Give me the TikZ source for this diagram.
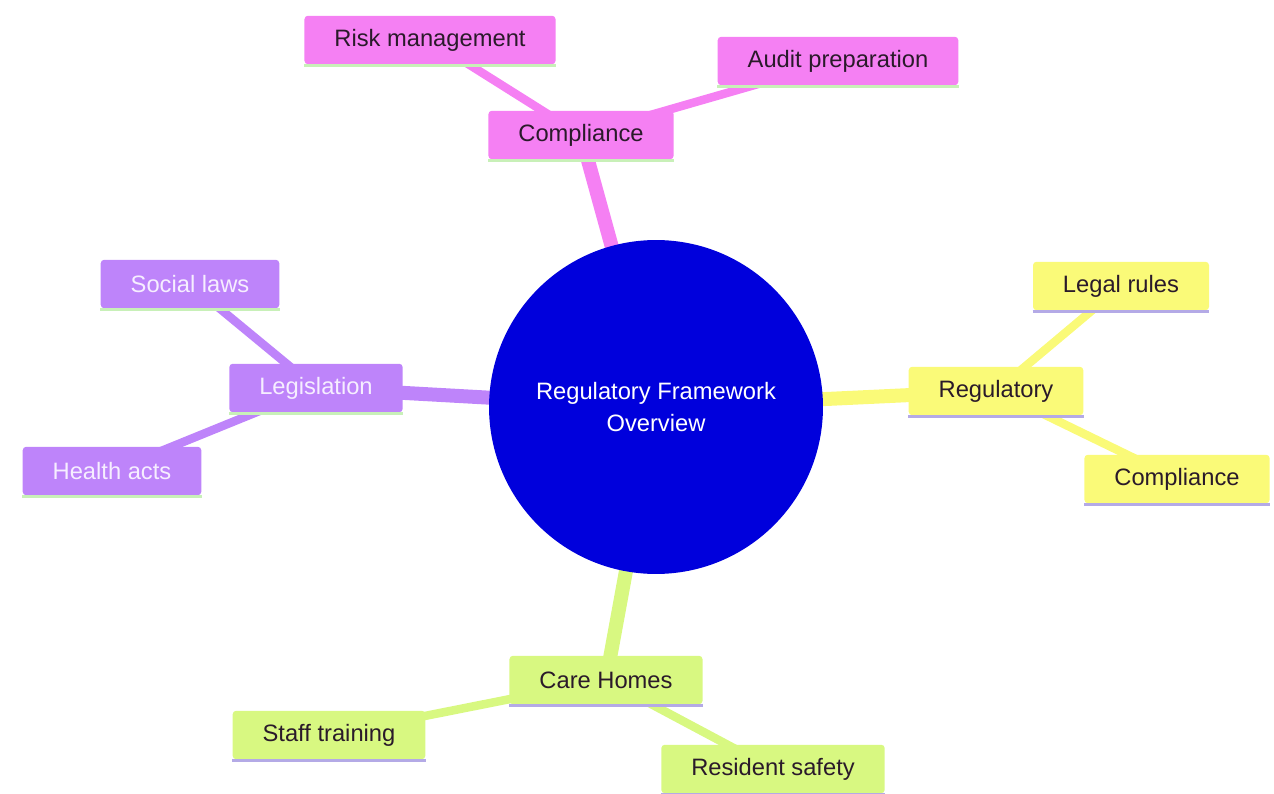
\documentclass[tikz,border=0pt]{standalone}
\usepackage{fontspec}
\setmainfont{Liberation Sans}
\usetikzlibrary{backgrounds}

\definecolor{pinkfill}{HTML}{F580F3}
\definecolor{purplefill}{HTML}{BE84FA}
\definecolor{yellowfill}{HTML}{FAFA78}
\definecolor{greenfill}{HTML}{D8F881}
\definecolor{rootfill}{HTML}{0000DC}
\definecolor{greenline}{HTML}{C8F0B8}
\definecolor{lavline}{HTML}{B4AAE6}
\definecolor{darktext}{HTML}{2A1A2A}
\definecolor{lighttext}{HTML}{F6EEFF}

\tikzset{
  box/.style={rectangle, rounded corners=2pt, inner xsep=0.6cm, minimum height=0.97cm,
    font=\fontsize{13.5}{16}\selectfont},
  underline/.style={append after command={([yshift=-0.6pt]\tikzlastnode.south west)
    edge[draw=#1, line width=1.6pt] ([yshift=-0.6pt]\tikzlastnode.south east)}},
  pinkbox/.style={box, fill=pinkfill, text=darktext, underline=greenline},
  purplebox/.style={box, fill=purplefill, text=lighttext, underline=greenline},
  yellowbox/.style={box, fill=yellowfill, text=darktext, underline=lavline},
  greenbox/.style={box, fill=greenfill, text=darktext, underline=lavline},
  rootnode/.style={circle, fill=rootfill, text=white, minimum size=6.68cm, align=center,
    font=\fontsize{13.5}{18.5}\selectfont},
  trunk/.style={line width=0.28cm},
  twig/.style={line width=0.17cm}
}

\begin{document}
\begin{tikzpicture}[x=0.02cm, y=-0.02cm]
  \useasboundingbox (0,0) rectangle (1274,794);

  \node[rootnode] (R) at (656,407) {Regulatory Framework\\Overview};

  \node[pinkbox] (C) at (581,135) {Compliance};
  \node[pinkbox] (C1) at (430,40) {Risk management};
  \node[pinkbox] (C2) at (838,61) {Audit preparation};

  \node[purplebox] (L) at (316,388) {Legislation};
  \node[purplebox] (L1) at (190,284) {Social laws};
  \node[purplebox] (L2) at (112,471) {Health acts};

  \node[yellowbox] (G) at (996,391) {Regulatory};
  \node[yellowbox] (G1) at (1121,286) {Legal rules};
  \node[yellowbox] (G2) at (1177,479) {Compliance};

  \node[greenbox] (H) at (606,680) {Care Homes};
  \node[greenbox] (H1) at (329,735) {Staff training};
  \node[greenbox] (H2) at (773,769) {Resident safety};

  \begin{scope}[on background layer]
    \draw[trunk, pinkfill] (R.center) -- (C.center);
    \draw[twig, pinkfill] (C.center) -- (C1.center);
    \draw[twig, pinkfill] (C.center) -- (C2.center);

    \draw[trunk, purplefill] (R.center) -- (L.center);
    \draw[twig, purplefill] (L.center) -- (L1.center);
    \draw[twig, purplefill] (L.center) -- (L2.center);

    \draw[trunk, yellowfill] (R.center) -- (G.center);
    \draw[twig, yellowfill] (G.center) -- (G1.center);
    \draw[twig, yellowfill] (G.center) -- (G2.center);

    \draw[trunk, greenfill] (R.center) -- (H.center);
    \draw[twig, greenfill] (H.center) -- (H1.center);
    \draw[twig, greenfill] (H.center) -- (H2.center);
  \end{scope}
\end{tikzpicture}
\end{document}
